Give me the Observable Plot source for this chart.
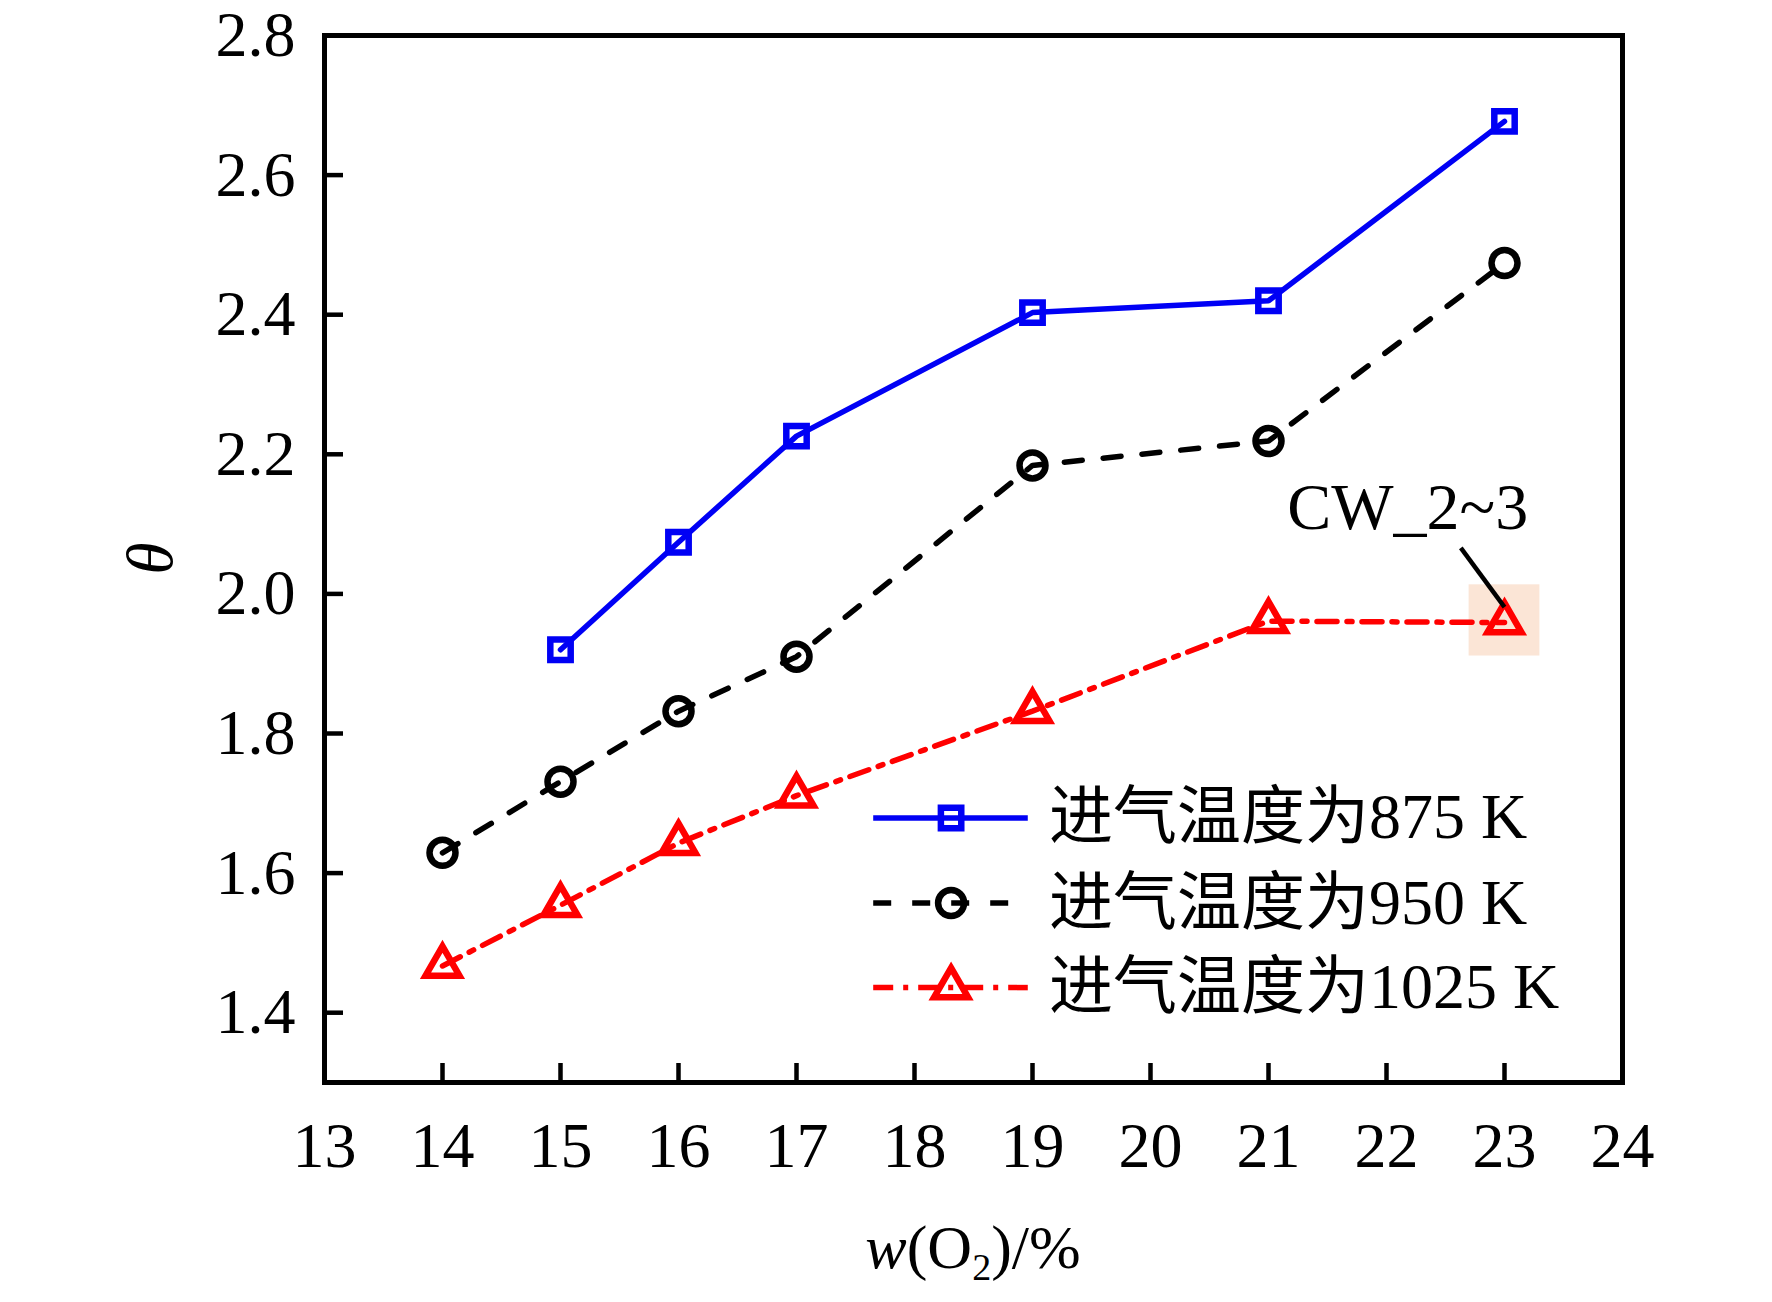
<!DOCTYPE html>
<html>
<head>
<meta charset="utf-8">
<script src="https://cdn.jsdelivr.net/npm/d3@7"></script>
<script src="https://cdn.jsdelivr.net/npm/@observablehq/plot@0.6"></script>
<style>
  html, body { margin: 0; padding: 0; background: #fff; }
  svg { display: block; }
</style>
</head>
<body>
<div id="chart"></div>
<script>
// ---------------- data ----------------
const xTicks = [13, 14, 15, 16, 17, 18, 19, 20, 21, 22, 23, 24];
const yTicks = [1.4, 1.6, 1.8, 2.0, 2.2, 2.4, 2.6, 2.8];
const seriesNames = ["进气温度为875 K", "进气温度为950 K", "进气温度为1025 K"];

const o2_875 = [15, 16, 17, 19, 21, 23];
const theta_875 = [1.92, 2.074, 2.226, 2.403, 2.42, 2.677];

const o2_950 = [14, 15, 16, 17, 19, 21, 23];
const theta_950 = [1.629, 1.731, 1.832, 1.91, 2.184, 2.219, 2.474];

const o2_1025 = [14, 15, 16, 17, 19, 21, 23];
const theta_1025 = [1.467, 1.554, 1.643, 1.711, 1.832, 1.961, 1.959];

const annotationText = "CW_2~3";
const xLabelParts = ["w", "(O", "2", ")/%"];
const yLabelText = "θ";

// ---------------- table ----------------
const seriesX = [o2_875, o2_950, o2_1025];
const seriesY = [theta_875, theta_950, theta_1025];
const rows = seriesNames.flatMap((name, i) =>
  seriesX[i].map((x, j) => ({series: name, x, y: seriesY[i][j]})));

// ---------------- styles / layout ----------------
const FONT = "'Liberation Serif', 'Times New Roman', 'Noto Sans CJK SC', serif";
const LW = 5.5;
const MW = 6.5;
const styles = [
  {stroke: "#0000f5", dash: null, symbol: "square", r: 11.5},
  {stroke: "#000000", dash: "18,21", symbol: "circle", r: 13},
  {stroke: "#ff0000", dash: "20,10,5,10", symbol: "triangle", r: 12.6}
];
const W = 1772, H = 1302;
const M = {left: 324, right: 150, top: 35, bottom: 220};

// legend layout (in data units of the chart)
const legendLineX = [17.65, 18.96];
const legendMarkX = 18.31;
const legendTextX = 19.14;
const legendY = [1.679, 1.557, 1.436];
const legendRows = seriesNames.map((name, i) => ({series: name, y: legendY[i]}));

// annotation layout
const annoText = {x: 22.18, y: 2.093};
const annoLeader = {x1: 22.63, y1: 2.066, x2: 23.0, y2: 1.981};
const annoBox = {x1: 22.70, x2: 23.30, y1: 1.911, y2: 2.013};

const marks = [
  Plot.rect([annoBox], {x1: "x1", x2: "x2", y1: "y1", y2: "y2", fill: "#fbe5d6"})
];
seriesNames.forEach((name, i) => {
  const s = styles[i];
  const data = rows.filter(d => d.series === name);
  marks.push(Plot.line(data, {x: "x", y: "y", stroke: s.stroke, strokeWidth: LW,
    strokeDasharray: s.dash, strokeLinejoin: "miter"}));
  marks.push(Plot.dot(data, {x: "x", y: "y", symbol: s.symbol, r: s.r, stroke: s.stroke,
    strokeWidth: MW, fill: "none"}));
  const lr = [legendRows[i]];
  marks.push(Plot.link(lr, {x1: legendLineX[0], x2: legendLineX[1], y1: "y", y2: "y",
    stroke: s.stroke, strokeWidth: LW, strokeDasharray: s.dash}));
  marks.push(Plot.dot(lr, {x: legendMarkX, y: "y", symbol: s.symbol, r: s.r, stroke: s.stroke,
    strokeWidth: MW, fill: "none"}));
  marks.push(Plot.text(lr, {x: legendTextX, y: "y", text: "series", textAnchor: "start",
    lineAnchor: "middle", fontSize: 64, fill: "#000", fontFamily: FONT}));
});
marks.push(
  Plot.link([annoLeader], {x1: "x1", y1: "y1", x2: "x2", y2: "y2", stroke: "#000", strokeWidth: 4.5}),
  Plot.text([annotationText], {x: annoText.x, y: annoText.y, text: d => d, textAnchor: "middle",
    lineAnchor: "bottom", fontSize: 66, fill: "#000", fontFamily: FONT}),
  Plot.frame({stroke: "#000", strokeWidth: 5}),
  Plot.axisX({ticks: xTicks, tickSize: -19, tickPadding: 58, strokeWidth: 4.5, fontSize: 64,
    tickFormat: d => String(d), label: null}),
  Plot.axisY({ticks: yTicks, tickSize: -19, tickPadding: 48, strokeWidth: 4.5, fontSize: 64,
    tickFormat: d3.format(".1f"), label: null})
);

const chart = Plot.plot({
  width: W, height: H,
  marginLeft: M.left, marginRight: M.right, marginTop: M.top, marginBottom: M.bottom,
  x: {domain: [13, 24], label: null},
  y: {domain: [1.3, 2.8], label: null},
  style: {fontFamily: FONT, fontSize: "64px", background: "#fff", color: "#000"},
  marks
});

// axis titles with mixed styling
const svg = d3.select(chart);
const cx = (M.left + W - M.right) / 2;
const xt = svg.append("text")
  .attr("x", cx).attr("y", 1268)
  .attr("text-anchor", "middle")
  .attr("font-family", FONT).attr("font-size", 62).attr("fill", "#000");
xt.append("tspan").attr("font-style", "italic").text(xLabelParts[0]);
xt.append("tspan").text(xLabelParts[1]);
xt.append("tspan").attr("font-size", 38).attr("dy", 12).text(xLabelParts[2]);
xt.append("tspan").attr("dy", -12).text(xLabelParts[3]);

const cy = (M.top + H - M.bottom) / 2;
svg.append("text")
  .attr("transform", `translate(172,${cy}) rotate(-90)`)
  .attr("text-anchor", "middle")
  .attr("font-family", FONT).attr("font-style", "italic")
  .attr("font-size", 66).attr("fill", "#000")
  .text(yLabelText);

document.getElementById("chart").appendChild(chart);
</script>
</body>
</html>
